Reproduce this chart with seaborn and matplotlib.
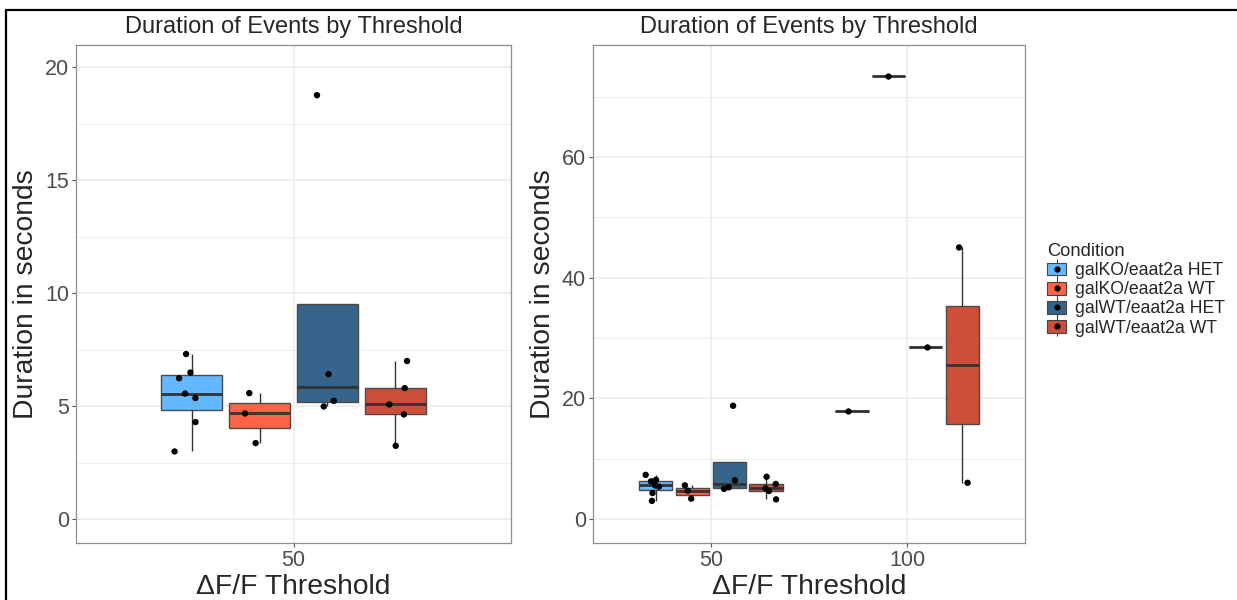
import numpy as np
import pandas as pd
import matplotlib
matplotlib.use("Agg")
import matplotlib.pyplot as plt
from matplotlib.lines import Line2D
from matplotlib.patches import Patch
from matplotlib.legend_handler import HandlerTuple
from matplotlib.ticker import MultipleLocator
import seaborn as sns

# ---- data -------------------------------------------------------------
conditions = ["galKO/eaat2a HET", "galKO/eaat2a WT", "galWT/eaat2a HET", "galWT/eaat2a WT"]
thresholds = ["50", "100"]
condition_colors = ["#63B8FF", "#FF6347", "#36648B", "#CD4F39"]

# event durations (s) per threshold and condition
dur_50_galko_het = [7.31, 6.49, 6.24, 5.56, 5.36, 4.30, 3.00]
dur_50_galko_wt = [5.58, 4.68, 3.37]
dur_50_galwt_het = [18.76, 6.42, 5.24, 4.99]
dur_50_galwt_wt = [7.00, 5.80, 5.08, 4.64, 3.25]
dur_100_galko_het = [17.95]
dur_100_galko_wt = [73.4]
dur_100_galwt_het = [28.45]
dur_100_galwt_wt = [45.0, 6.0]

groups = {
    ("50", conditions[0]): dur_50_galko_het,
    ("50", conditions[1]): dur_50_galko_wt,
    ("50", conditions[2]): dur_50_galwt_het,
    ("50", conditions[3]): dur_50_galwt_wt,
    ("100", conditions[0]): dur_100_galko_het,
    ("100", conditions[1]): dur_100_galko_wt,
    ("100", conditions[2]): dur_100_galwt_het,
    ("100", conditions[3]): dur_100_galwt_wt,
}
rows = [(thr, cond, v) for (thr, cond), vals in groups.items() for v in vals]
df = pd.DataFrame(rows, columns=["threshold", "condition", "duration"])
palette = dict(zip(conditions, condition_colors))

# ---- style ------------------------------------------------------------
sns.set_style("white")
plt.rcParams["font.family"] = ["Liberation Sans", "DejaVu Sans"]

W, H = 1237, 600
fig = plt.figure(figsize=(W / 100, H / 100), dpi=100)


def fig_rect(x0, y0, x1, y1):
    return [x0 / W, 1 - y1 / H, (x1 - x0) / W, (y1 - y0) / H]


tick_color = "#4D4D4D"
grid_color = "#EBEBEB"


def draw_panel(ax, data, order, ylim, major, minor, seed):
    sns.boxplot(
        data=data, x="threshold", y="duration", hue="condition",
        order=order, hue_order=conditions, palette=palette,
        width=0.75, gap=0.1, showfliers=False, whis=1.5, saturation=1,
        linecolor="#333333", linewidth=1.0,
        medianprops={"linewidth": 2.0, "color": "#333333"},
        whiskerprops={"color": "#333333"}, capprops={"linewidth": 0},
        boxprops={"edgecolor": "#4a4a4a"},
        legend=False, ax=ax,
    )
    np.random.seed(seed)
    sns.stripplot(
        data=data, x="threshold", y="duration", hue="condition",
        order=order, hue_order=conditions, palette=["black"] * 4,
        dodge=True, jitter=0.15, size=4.6, linewidth=0,
        legend=False, ax=ax, zorder=4,
    )
    ax.set_xlim(-0.6, len(order) - 1 + 0.6)
    ax.set_ylim(*ylim)
    ax.yaxis.set_major_locator(MultipleLocator(major))
    ax.yaxis.set_minor_locator(MultipleLocator(minor))
    ax.set_axisbelow(True)
    ax.grid(which="major", color=grid_color, linewidth=1.1)
    ax.grid(which="minor", axis="y", color=grid_color, linewidth=0.6)
    for s in ax.spines.values():
        s.set_color("#8F8F8F")
        s.set_linewidth(0.9)
    ax.tick_params(axis="both", which="major", length=3, width=0.8,
                   color="#555555", labelsize=15.5, labelcolor=tick_color,
                   left=True, bottom=True, pad=2)
    ax.tick_params(which="minor", length=0)
    ax.set_title("Duration of Events by Threshold", fontsize=17, pad=9)
    ax.set_xlabel("ΔF/F Threshold", fontsize=20.3, labelpad=2)
    ax.set_ylabel("Duration in seconds", fontsize=20.3, labelpad=4)


ax1 = fig.add_axes(fig_rect(76, 45, 511, 543))
draw_panel(ax1, df[df["threshold"] == "50"], ["50"], (-1.05, 20.98), 5, 2.5, 3)

ax2 = fig.add_axes(fig_rect(593, 45, 1025, 543))
draw_panel(ax2, df, thresholds, (-3.98, 78.55), 20, 10, 7)

# legend with boxplot-style keys
handles = []
for c in condition_colors:
    handles.append((
        Line2D([], [], marker="|", markersize=15, color="#444444", linestyle="", markeredgewidth=0.8),
        Patch(facecolor=c, edgecolor="#444444", linewidth=0.8),
        Line2D([], [], marker="o", markersize=3.5, color="black", linestyle=""),
    ))
fig.legend(
    handles, conditions, title="Condition",
    handler_map={tuple: HandlerTuple(ndivide=1, pad=0)},
    loc="upper left", bbox_to_anchor=(1040 / W, 1 - 236 / H),
    frameon=False, fontsize=12.7, title_fontsize=13.2,
    handlelength=1.1, handleheight=0.75, handletextpad=0.5,
    labelspacing=0.12, borderaxespad=0, alignment="left",
)

# outer frame
fig.add_artist(Line2D([6 / W, 6 / W], [0, 1 - 10 / H], color="black", linewidth=1.6))
fig.add_artist(Line2D([6 / W, 1], [1 - 10 / H, 1 - 10 / H], color="black", linewidth=1.6))

fig.savefig("out.png", dpi=100, facecolor="white")
